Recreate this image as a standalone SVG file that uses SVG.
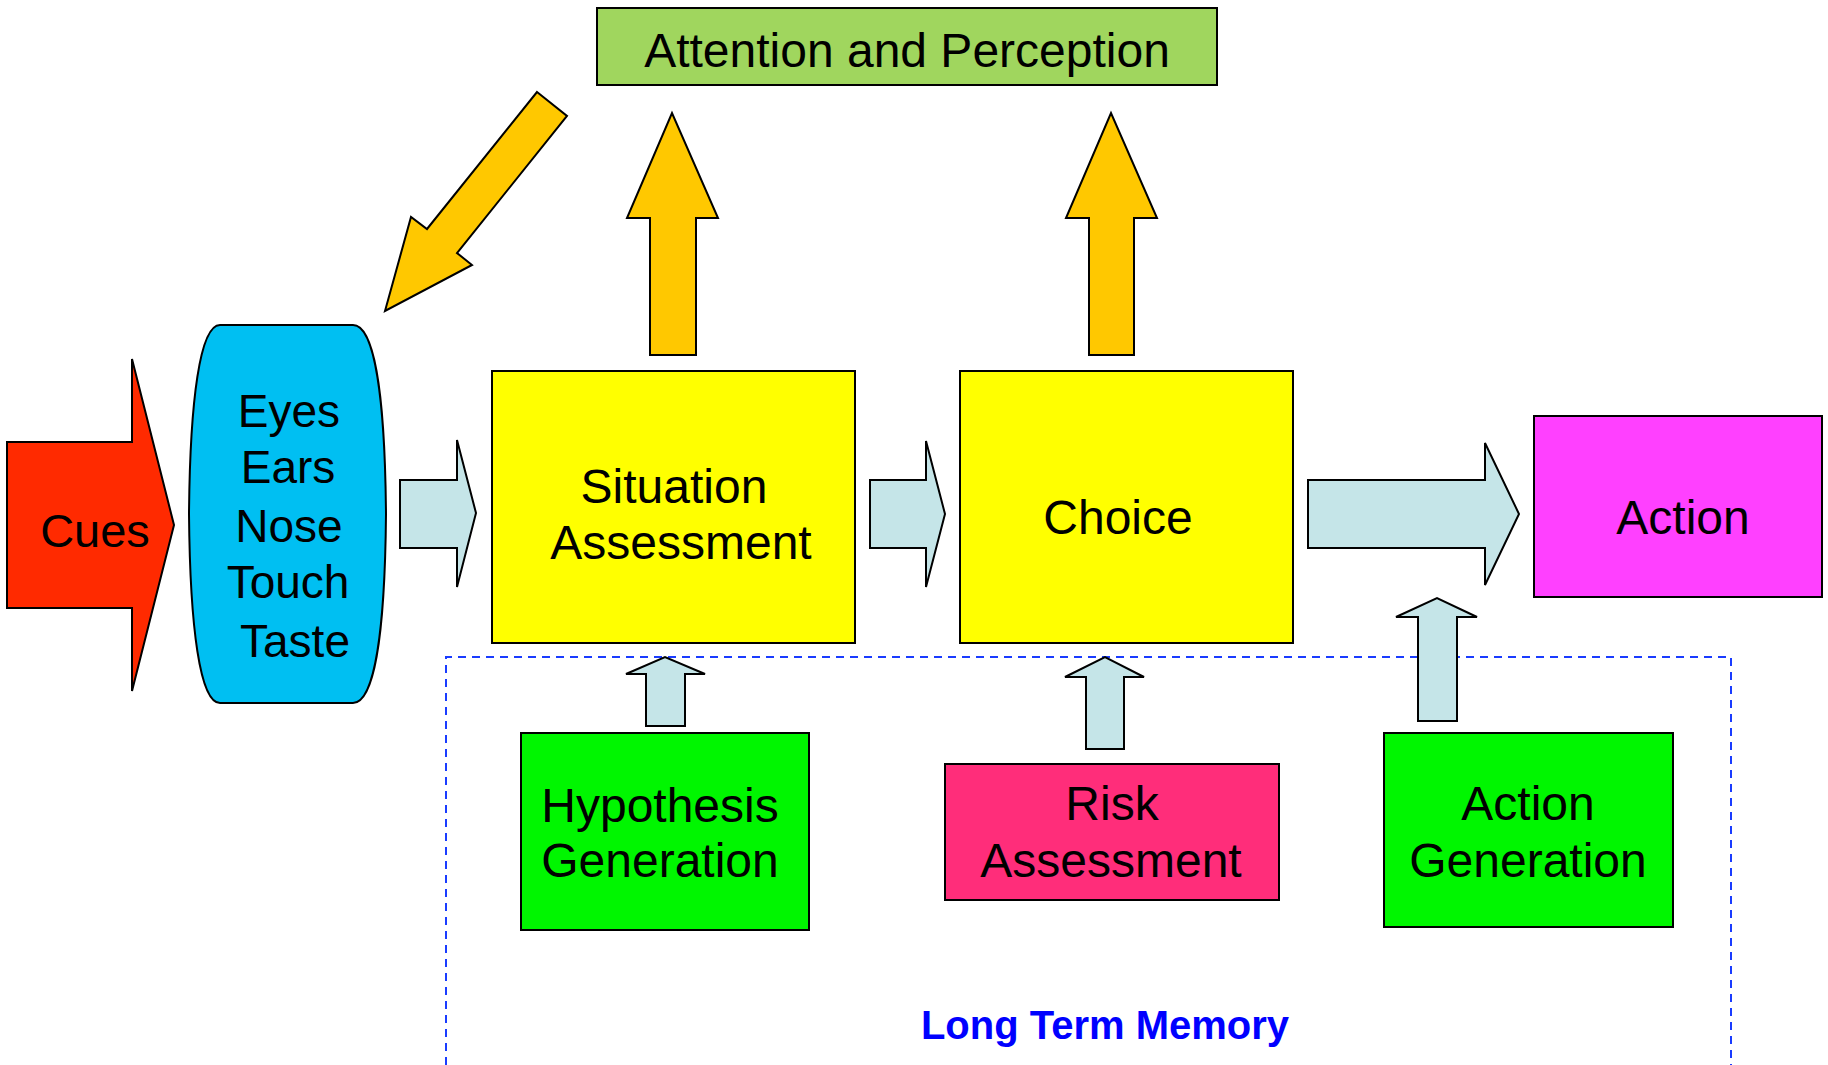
<svg xmlns="http://www.w3.org/2000/svg" width="1828" height="1065" viewBox="0 0 1828 1065">
<style>
.ol{stroke:#000;stroke-width:2;stroke-linejoin:miter}
.t{font-family:"Liberation Sans",Arial,sans-serif;font-size:48px;fill:#000;text-anchor:middle}
.ts{font-family:"Liberation Sans",Arial,sans-serif;font-size:46px;fill:#000;text-anchor:middle}
.orange{fill:#ffc800}
.lb{fill:#c5e5e8}
.ltm{font-family:"Liberation Sans",Arial,sans-serif;font-size:40px;font-weight:bold;fill:#0000ff;text-anchor:middle}
</style>
<rect width="1828" height="1065" fill="#fff"/>
<g id="memory">
<path d="M446 1065 V657 H1731 V1065" fill="none" stroke="#1a3cff" stroke-width="2" stroke-dasharray="8 6"/>
<text class="ltm" x="1105" y="1039">Long Term Memory</text>
</g>
<g id="attention">
<rect class="ol" x="597" y="8" width="620" height="77" fill="#a0d65e"/>
<text class="t" x="907" y="67">Attention and Perception</text>
</g>
<g id="cues">
<polygon class="ol" points="7,442 132,442 132,359 174,525 132,691 132,608 7,608" fill="#ff2a00"/>
<text class="ts" x="95" y="547" style="font-size:47px">Cues</text>
</g>
<g id="senses">
<path class="ol" d="M220 325 L353 325 C375 325 385 400 386 514 C385 628 375 703 353 703 L220 703 C200 703 190 628 189 514 C190 400 200 325 220 325 Z" fill="#00bff2"/>
<text class="ts" x="289" y="427">Eyes</text>
<text class="ts" x="288" y="483">Ears</text>
<text class="ts" x="289" y="542">Nose</text>
<text class="ts" x="288" y="598">Touch</text>
<text class="ts" x="295" y="657">Taste</text>
</g>
<g id="situation">
<rect class="ol" x="492" y="371" width="363" height="272" fill="#ffff00"/>
<text class="t" x="674" y="503">Situation</text>
<text class="t" x="681" y="559">Assessment</text>
</g>
<g id="choice">
<rect class="ol" x="960" y="371" width="333" height="272" fill="#ffff00"/>
<text class="t" x="1118" y="534">Choice</text>
</g>
<g id="action">
<rect class="ol" x="1534" y="416" width="288" height="181" fill="#ff40ff"/>
<text class="t" x="1683" y="534">Action</text>
</g>
<g id="hypothesis">
<rect class="ol" x="521" y="733" width="288" height="197" fill="#00f600"/>
<text class="t" x="660" y="822">Hypothesis</text>
<text class="t" x="660" y="877">Generation</text>
</g>
<g id="risk">
<rect class="ol" x="945" y="764" width="334" height="136" fill="#ff2d7a"/>
<text class="t" x="1112" y="820">Risk</text>
<text class="t" x="1111" y="877">Assessment</text>
</g>
<g id="actiongen">
<rect class="ol" x="1384" y="733" width="289" height="194" fill="#00f600"/>
<text class="t" x="1528" y="820">Action</text>
<text class="t" x="1528" y="877">Generation</text>
</g>
<g id="connectors">
<polygon class="ol orange" points="537,92 567,116 457,253 472,265 385,311 411,217 427,229"/>
<polygon class="ol orange" points="650,355 650,218 627,218 672,113 718,218 696,218 696,355"/>
<polygon class="ol orange" points="1089,355 1089,218 1066,218 1111,113 1157,218 1134,218 1134,355"/>
<polygon class="ol lb" points="400,480 457,480 457,440 476,513 457,587 457,548 400,548"/>
<polygon class="ol lb" points="870,480 926,480 926,441 945,514 926,587 926,548 870,548"/>
<polygon class="ol lb" points="1308,480 1485,480 1485,443 1519,514 1485,585 1485,548 1308,548"/>
<polygon class="ol lb" points="646,726 646,674 626,674 665,657 705,674 685,674 685,726"/>
<polygon class="ol lb" points="1086,749 1086,677 1065,677 1105,657 1144,677 1124,677 1124,749"/>
<polygon class="ol lb" points="1418,721 1418,617 1396,617 1437,598 1477,617 1457,617 1457,721"/>
</g>
</svg>
